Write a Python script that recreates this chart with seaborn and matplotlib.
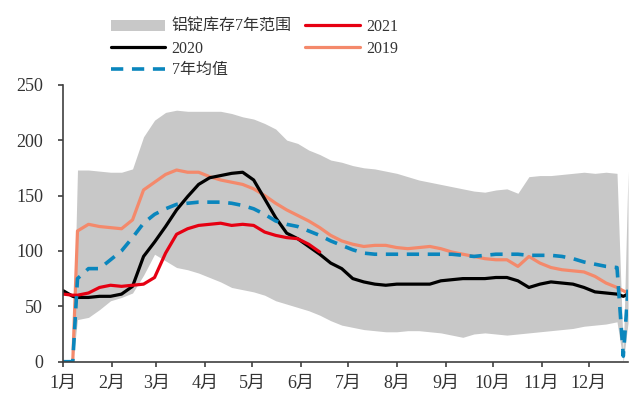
import pandas as pd
import seaborn as sns
import matplotlib.pyplot as plt
from matplotlib.dates import date2num
from matplotlib.ticker import FixedLocator

# observation dates: start of year, then weekly, plus two odd points at year end
dates = [pd.Timestamp('2021-01-01'), pd.Timestamp('2021-01-07')] + \
    list(pd.date_range('2021-01-10', periods=50, freq='7D')) + \
    [pd.Timestamp('2021-12-23'), pd.Timestamp('2021-12-26')]

band_upper = [0, 0, 173, 173, 172, 171, 171, 174, 203, 218, 225, 227, 226, 226, 226, 226,
              224, 221, 219, 215, 210, 200, 197, 191, 187, 182, 180, 177, 175, 174, 172,
              170, 167, 164, 162, 160, 158, 156, 154, 153, 155, 156, 152, 167, 168, 168,
              169, 170, 171, 170, 171, 170, 8, 172]
band_lower = [0, 0, 38, 40, 47, 55, 58, 62, 78, 97, 91, 85, 83, 80, 76, 72,
              67, 65, 63, 60, 55, 52, 49, 46, 42, 37, 33, 31, 29, 28, 27,
              27, 28, 28, 27, 26, 24, 22, 25, 26, 25, 24, 25, 26, 27, 28,
              29, 30, 32, 33, 34, 36, 0, 35]
mean7 = [0, 0, 75, 84, 84, 92, 100, 112, 125, 133, 138, 142, 143, 144, 144, 144,
         143, 141, 138, 133, 127, 124, 122, 118, 114, 109, 105, 101, 98, 97, 97,
         97, 97, 97, 97, 97, 97, 96, 95, 96, 97, 97, 97, 96, 96, 96,
         95, 93, 90, 88, 86, 85, 5, 65]
y2019 = [0, 0, 118, 124, 122, 121, 120, 128, 155, 162, 169, 173, 171, 171, 167, 164,
         162, 160, 156, 150, 143, 137, 132, 127, 121, 114, 109, 106, 104, 105, 105,
         103, 102, 103, 104, 102, 99, 97, 95, 93, 92, 92, 86, 95, 89, 85,
         83, 82, 81, 77, 71, 67, 64, 62]
y2020 = [64, 59, 58, 58, 59, 59, 61, 68, 95, 108, 122, 137, 149, 160, 166, 168,
         170, 171, 164, 147, 130, 116, 111, 104, 97, 89, 84, 75, 72, 70, 69,
         70, 70, 70, 70, 73, 74, 75, 75, 75, 76, 76, 73, 67, 70, 72,
         71, 70, 67, 63, 62, 61, 59, 61]
y2021 = [61, 60, 60, 62, 67, 69, 68, 69, 70, 76, 98, 115, 120, 123, 124, 125,
         123, 124, 123, 117, 114, 112, 111, 106, 99]

month_labels = ['1月', '2月', '3月', '4月', '5月', '6月',
                '7月', '8月', '9月', '10月', '11月', '12月']

sns.set_style('ticks')
plt.rcParams['font.family'] = ['Liberation Serif', 'Noto Sans CJK SC']

fig = plt.figure(figsize=(6.43, 3.94), dpi=100)
ax = fig.add_axes([0.0985, 0.082, 0.8782, 0.703])

ax.fill_between(dates, band_lower, band_upper, color='#c8c8c8',
                linewidth=0, label='铝锭库存7年范围')
sns.lineplot(x=dates, y=y2019, ax=ax, color='#f4896b', linewidth=2.3, label='2019')
sns.lineplot(x=dates, y=y2020, ax=ax, color='black', linewidth=2.3, label='2020')
sns.lineplot(x=dates[:len(y2021)], y=y2021, ax=ax, color='#e60012', linewidth=2.3,
             label='2021')
sns.lineplot(x=dates, y=mean7, ax=ax, color='#0a86bd', linewidth=2.6,
             linestyle=(0, (3.4, 2.4)), label='7年均值')

month_starts = pd.date_range('2021-01-01', periods=12, freq='MS')
ax.xaxis.set_major_locator(FixedLocator([date2num(d) for d in month_starts]))
ax.set_xticklabels(month_labels)
ax.set_xlim(pd.Timestamp('2021-01-01'), pd.Timestamp('2021-12-26'))
ax.set_ylim(0, 250)
ax.set_yticks([0, 50, 100, 150, 200, 250])
ax.set_xlabel('')
ax.set_ylabel('')

for s in ['top', 'right']:
    ax.spines[s].set_visible(False)
for s in ['left', 'bottom']:
    ax.spines[s].set_color('#404040')
    ax.spines[s].set_linewidth(1.2)
ax.tick_params(axis='both', colors='#404040', labelcolor='#333333',
               length=3.6, width=1.2, labelsize=13)
ax.tick_params(axis='y', pad=11)
ax.tick_params(axis='x', pad=6)

handles, labels = ax.get_legend_handles_labels()
lookup = dict(zip(labels, handles))
order = ['铝锭库存7年范围', '2020', '7年均值', '2021', '2019']
ax.legend([lookup[k] for k in order], order, ncol=2, frameon=False,
          loc='upper left', bbox_to_anchor=(103 / 643, 1 - 11 / 394),
          bbox_transform=fig.transFigure, borderpad=0, handlelength=3.4,
          handletextpad=0.4, columnspacing=0.85, labelspacing=0.35,
          fontsize=11.5, labelcolor='#333333')

fig.savefig('out.png', dpi=100)
